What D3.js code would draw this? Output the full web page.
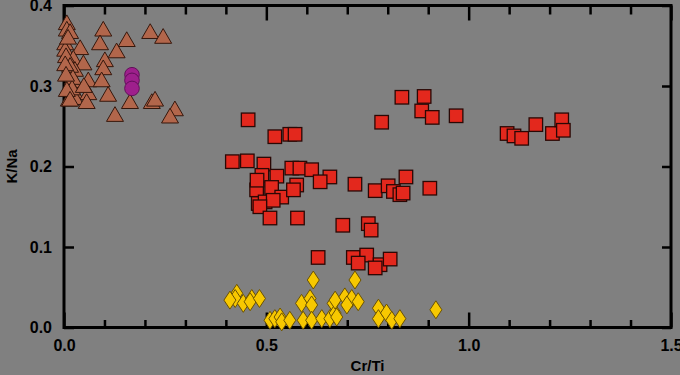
<!DOCTYPE html>
<html>
<head>
<meta charset="utf-8">
<script src="https://cdn.jsdelivr.net/npm/d3@7"></script>
<style>
  html, body { margin: 0; padding: 0; background: #808080; }
  svg { display: block; }
  text { font-family: "Liberation Sans", Arial, sans-serif; font-weight: bold; fill: #000; }
</style>
</head>
<body>
<svg id="chart" width="680" height="375"></svg>
<script>
// ---- Data (Cr/Ti, K/Na) ----
const triangleX = [0.007,0.007,0.015,0.003,0.003,0.040,0.023,0.048,0.027,0.025,0.060,0.027,0.060,0.027,0.056,
  0.097,0.089,0.155,0.130,0.101,0.097,0.093,0.109,0.163,0.126,0.213,0.245,0.217,0.225,0.274,0.262,
  0.010,0.005,0.015,0.022,0.020,0.012,0.049,0.003,0.005,0.007,0.015];
const triangleY = [0.378,0.370,0.367,0.353,0.345,0.347,0.334,0.328,0.320,0.306,0.307,0.291,0.291,0.285,0.280,
  0.370,0.353,0.357,0.343,0.332,0.322,0.307,0.289,0.280,0.264,0.367,0.361,0.280,0.283,0.271,0.262,
  0.360,0.337,0.325,0.310,0.297,0.283,0.300,0.327,0.314,0.295,0.283];

const circleX = [0.168,0.168,0.168];
const circleY = [0.314,0.307,0.297];

const squareX = [0.455,0.521,0.558,0.571,0.416,0.453,0.494,0.489,0.526,0.563,0.583,0.612,0.657,0.633,0.575,
  0.476,0.513,0.538,0.567,0.480,0.497,0.517,0.484,0.509,0.577,0.689,0.477,
  0.835,0.890,0.884,0.910,0.969,0.785,0.719,0.769,0.801,0.845,0.904,0.814,0.830,0.838,
  0.752,0.759,0.628,0.715,0.748,0.727,0.781,0.806,0.769,
  1.095,1.112,1.131,1.166,1.207,1.230,1.234];
const squareY = [0.258,0.237,0.240,0.240,0.206,0.207,0.203,0.189,0.188,0.198,0.198,0.196,0.187,0.181,0.177,
  0.171,0.174,0.162,0.171,0.154,0.156,0.158,0.150,0.136,0.136,0.127,0.183,
  0.286,0.287,0.269,0.261,0.263,0.255,0.178,0.170,0.176,0.187,0.173,0.169,0.165,0.167,
  0.129,0.121,0.087,0.087,0.090,0.080,0.078,0.085,0.074,
  0.241,0.238,0.235,0.252,0.241,0.258,0.245];

const diamondX = [0.427,0.423,0.410,0.443,0.464,0.460,0.483,0.509,0.521,0.534,0.538,0.558,0.616,0.587,0.608,
  0.612,0.591,0.612,0.637,0.657,0.665,0.670,0.719,0.670,0.694,0.711,0.727,0.699,0.674,0.777,0.777,
  0.797,0.810,0.830,0.919];
const diamondY = [0.0425,0.036,0.034,0.030,0.036,0.032,0.036,0.009,0.011,0.013,0.007,0.009,0.059,0.030,0.036,
  0.028,0.009,0.009,0.011,0.011,0.030,0.018,0.059,0.034,0.038,0.036,0.032,0.028,0.013,0.024,0.011,
  0.018,0.009,0.011,0.022];

const xMajorTicks = [0.0, 0.5, 1.0, 1.5];
const xMinorTicks = [0.1,0.2,0.3,0.4,0.6,0.7,0.8,0.9,1.1,1.2,1.3,1.4];
const yTicks = [0.0, 0.1, 0.2, 0.3, 0.4];
const xTitle = "Cr/Ti";
const yTitle = "K/Na";

// ---- Layout ----
const svg = d3.select("#chart");
const L = 64, R = 671, T = 5.5, B = 327.5;
const x = d3.scaleLinear().domain([0, 1.5]).range([L, R]);
const y = d3.scaleLinear().domain([0, 0.4]).range([B, T]);

// Axes
const fmt = d3.format(".1f");
function styleAxis(g) {
  g.select(".domain").remove();
  g.selectAll(".tick line").attr("stroke", "#000").attr("stroke-width", 2.5);
  g.selectAll("text").style("font-size", "16px").attr("fill", "#000");
}
// bottom
svg.append("g").attr("transform", `translate(0,${B})`)
  .call(d3.axisBottom(x).tickValues(xMinorTicks).tickSize(-7.5).tickFormat(""))
  .call(styleAxis);
svg.append("g").attr("transform", `translate(0,${B})`)
  .call(d3.axisBottom(x).tickValues(xMajorTicks).tickSize(-15).tickPadding(12).tickFormat(fmt))
  .call(styleAxis);
// top
svg.append("g").attr("transform", `translate(0,${T})`)
  .call(d3.axisTop(x).tickValues(xMinorTicks).tickSize(-9).tickFormat(""))
  .call(styleAxis);
svg.append("g").attr("transform", `translate(0,${T})`)
  .call(d3.axisTop(x).tickValues(xMajorTicks).tickSize(-15).tickFormat(""))
  .call(styleAxis);
// left
svg.append("g").attr("transform", `translate(${L},0)`)
  .call(d3.axisLeft(y).tickValues(yTicks).tickSize(-10).tickPadding(12).tickFormat(fmt))
  .call(styleAxis);
// right
svg.append("g").attr("transform", `translate(${R},0)`)
  .call(d3.axisRight(y).tickValues(yTicks).tickSize(-9).tickFormat(""))
  .call(styleAxis);

// frame
svg.append("rect").attr("x", L).attr("y", T).attr("width", R - L).attr("height", B - T)
  .attr("fill", "none").attr("stroke", "#000").attr("stroke-width", 3);

// titles
svg.append("text").attr("x", (L + R) / 2).attr("y", 371).attr("text-anchor", "middle")
  .style("font-size", "15px").text(xTitle);
svg.append("text").attr("transform", `translate(17,${(T + B) / 2}) rotate(-90)`)
  .attr("text-anchor", "middle").style("font-size", "15px").text(yTitle);

// ---- Marks ----
const plot = svg.append("g");
const tri = d3.symbol().type(d3.symbolTriangle).size(125);
const triData = triangleX.map((v, i) => [v, triangleY[i]]);
plot.selectAll(".tri").data(triData).join("path")
  .attr("transform", d => `translate(${x(d[0])},${y(d[1]) + 1.5})`)
  .attr("d", tri).attr("fill", "#b2664b").attr("stroke", "#35170c").attr("stroke-width", 1);

const cirData = circleX.map((v, i) => [v, circleY[i]]);
plot.selectAll(".cir").data(cirData).join("circle")
  .attr("cx", d => x(d[0])).attr("cy", d => y(d[1])).attr("r", 7.3)
  .attr("fill", "#9e1f8c").attr("stroke", "#62105a").attr("stroke-width", 1);

const sqData = squareX.map((v, i) => [v, squareY[i]]);
const sq = 13.5;
plot.selectAll(".sq").data(sqData).join("rect")
  .attr("x", d => x(d[0]) - sq / 2).attr("y", d => y(d[1]) - sq / 2)
  .attr("width", sq).attr("height", sq)
  .attr("fill", "#e3281d").attr("stroke", "#2a0805").attr("stroke-width", 1.3);

const diaData = diamondX.map((v, i) => [v, diamondY[i]]);
const dw = 6, dh = 9;
plot.selectAll(".dia").data(diaData).join("path")
  .attr("transform", d => `translate(${x(d[0])},${y(d[1])})`)
  .attr("d", `M0,${-dh}L${dw},0L0,${dh}L${-dw},0Z`)
  .attr("fill", "#f7c800").attr("stroke", "#6b5200").attr("stroke-width", 1);
</script>
</body>
</html>
